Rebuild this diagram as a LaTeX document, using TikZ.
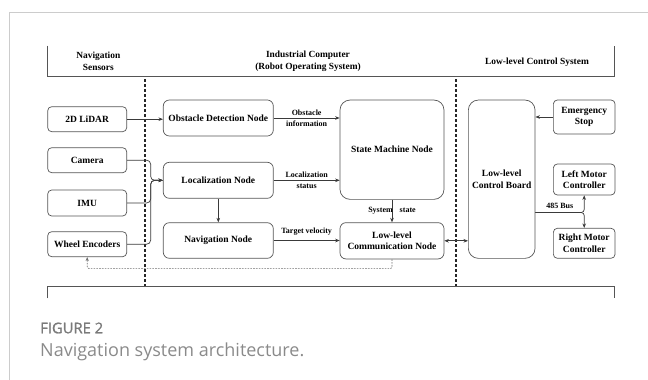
\documentclass[tikz,border=0pt]{standalone}
\usepackage{fontspec}
\setmainfont{Liberation Serif}
\newfontfamily\myCapFont{Open Sans}
\newfontfamily\myCapFontB[FakeBold=1.2]{Open Sans}
\usetikzlibrary{arrows.meta,calc}
\definecolor{lncol}{HTML}{3A3A3A}
\definecolor{bxcol}{HTML}{555555}
\definecolor{framecol}{HTML}{CCCCCC}
\definecolor{capcol}{HTML}{7A7A7A}
\definecolor{capcolb}{HTML}{8A8A8A}
\definecolor{fbcol}{HTML}{707070}
\newcommand\myNodeFont{\bfseries\fontsize{9.5}{11.6}\selectfont}
\newcommand\myLblFont{\bfseries\fontsize{8}{10.6}\selectfont}
\newcommand\myHdrFont{\bfseries\fontsize{9.4}{12.7}\selectfont}
\tikzset{
  box/.style={draw=bxcol, line width=0.7pt, rounded corners=4pt, align=center, inner sep=0pt, font=\myNodeFont, text=black},
  sz/.style 2 args={minimum width=#1, minimum height=#2},
  tip/.style={Stealth[length=4.5pt,width=3.6pt]},
  arr/.style={draw=lncol, line width=0.7pt, -{Stealth[length=4.5pt,width=3.6pt]}},
  dblarr/.style={draw=lncol, line width=0.7pt, {Stealth[length=4.5pt,width=3.6pt]}-{Stealth[length=4.5pt,width=3.6pt]}},
  lbl/.style={font=\myLblFont, align=center, inner sep=0pt, text=black},
  hdrtxt/.style={font=\myHdrFont, align=center, inner sep=0pt, text=black},
  sepline/.style={draw=black!85, line width=1.1pt, dash pattern=on 3pt off 2pt},
  hdrline/.style={draw=bxcol, line width=0.8pt},
  fbk/.style={draw=fbcol, line width=0.6pt, dash pattern=on 1.6pt off 1.2pt, -{Stealth[length=4pt,width=3.2pt]}},
}
\begin{document}
\begin{tikzpicture}[x=1pt,y=-1pt]
\useasboundingbox (0,0) rectangle (648,380);
% outer frame
\draw[draw=framecol, line width=1.2pt] (9.3,380) -- (9.3,12.3) -- (648,12.3);
% header and footer brackets
\draw[hdrline] (47.7,45.7) -- (47.7,76) -- (614.5,76) -- (614.5,45.7);
\draw[hdrline] (47.7,298.3) -- (47.7,286) -- (614.5,286) -- (614.5,298.3);
\node[hdrtxt] (h1) at (98.3,61.3) {Navigation\\Sensors};
\node[hdrtxt] (h2) at (308,61.3) {Industrial Computer\\(Robot Operating System)};
\node[hdrtxt] (h3) at (537,62) {Low-level Control System};
% separators
\draw[sepline] (145,79.3) -- (145,286);
\draw[sepline] (456,79.3) -- (456,286);
% sensors
\node[box, sz={79}{25}] (lidar) at (87.2,119.2) {2D LiDAR};
\node[box, sz={79}{25}] (cam) at (87.2,160.2) {Camera};
\node[box, sz={79}{26}] (imu) at (87.2,203) {IMU};
\node[box, sz={79}{25}] (wheel) at (87.2,244.2) {Wheel Encoders};
% ROS nodes
\node[box, rounded corners=6pt, sz={110}{36}] (obst) at (218.3,118) {Obstacle Detection Node};
\node[box, rounded corners=6pt, sz={110}{36}] (loc) at (218.3,180.3) {Localization Node};
\node[box, rounded corners=6pt, sz={110}{35.6}] (nav) at (218.3,240.5) {Navigation Node};
\node[box, rounded corners=10pt, sz={104}{99.3}] (sm) at (392,149.7) {State Machine Node};
\node[box, rounded corners=6pt, sz={104}{36.3}] (comm) at (392,240.8) {Low-level\\Communication Node};
% low-level
\node[box, rounded corners=10pt, sz={66.7}{158.3}] (board) at (501.7,179.2) {Low-level\\Control Board};
\node[box, sz={61.7}{34}] (estop) at (584.2,117) {Emergency\\Stop};
\node[box, sz={61.7}{31}] (lm) at (584.2,179.5) {Left Motor\\Controller};
\node[box, sz={61.7}{30}] (rm) at (584.2,243.3) {Right Motor\\Controller};
% connectors
\draw[arr] (lidar.east) -- (lidar.east -| obst.west);
\draw[arr] (obst.east) -- (obst.east -| sm.west) node[lbl, midway] (l1) {Obstacle\\information};
\draw[arr] (loc.east) -- (loc.east -| sm.west) node[lbl, midway] (l2) {Localization\\status};
\draw[arr] (nav.east) -- (nav.east -| comm.west) node[lbl, midway, above=5pt] (l3) {Target velocity};
\draw[arr] (sm.south) -- (comm.north) node[lbl, midway] (l4) {System\hspace{7pt}state};
\draw[arr] (loc.south) -- (nav.north);
\draw[dblarr] (comm.east) -- (comm.east -| board.west);
\draw[arr] (estop.west) -- (estop.west -| board.east);
% 485 bus
\coordinate (bus) at ($(board.east)+(0,33.3)$);
\draw[arr, rounded corners=3pt] (bus) -- (bus -| lm.south) -- (lm.south);
\draw[arr, rounded corners=3pt] (bus) -- (bus -| rm.north) -- (rm.north);
\node[lbl, above=3.5pt] (l5) at ($(bus)!0.5!(bus -| lm.south)$) {485 Bus};
% sensor merge
\coordinate (jx) at ($(loc.west)+(-12.3,0)$);
\draw[arr, rounded corners=4pt] (cam.east) -- (cam.east -| jx) -- (jx) -- (loc.west);
\draw[arr, rounded corners=4pt] (imu.east) -- (imu.east -| jx) -- (jx) -- (loc.west);
\draw[arr, rounded corners=4pt] (wheel.east) -- (wheel.east -| jx) -- (jx) -- (loc.west);
% feedback
\coordinate (fb) at ($(comm.south)+(0,9.3)$);
\draw[fbk, rounded corners=2pt] (comm.south) -- (fb) -- (fb -| wheel.south) -- (wheel.south);
% caption
\node[anchor=base west, inner sep=0pt, text=capcol, font=\myCapFontB\fontsize{14.8}{17}\selectfont] (cap1) at (40,333.3) {FIGURE 2};
\node[anchor=base west, inner sep=0pt, text=capcolb, font=\myCapFont\fontsize{18}{21}\selectfont] (cap2) at (40,356) {Navigation system architecture.};
\end{tikzpicture}
\end{document}
